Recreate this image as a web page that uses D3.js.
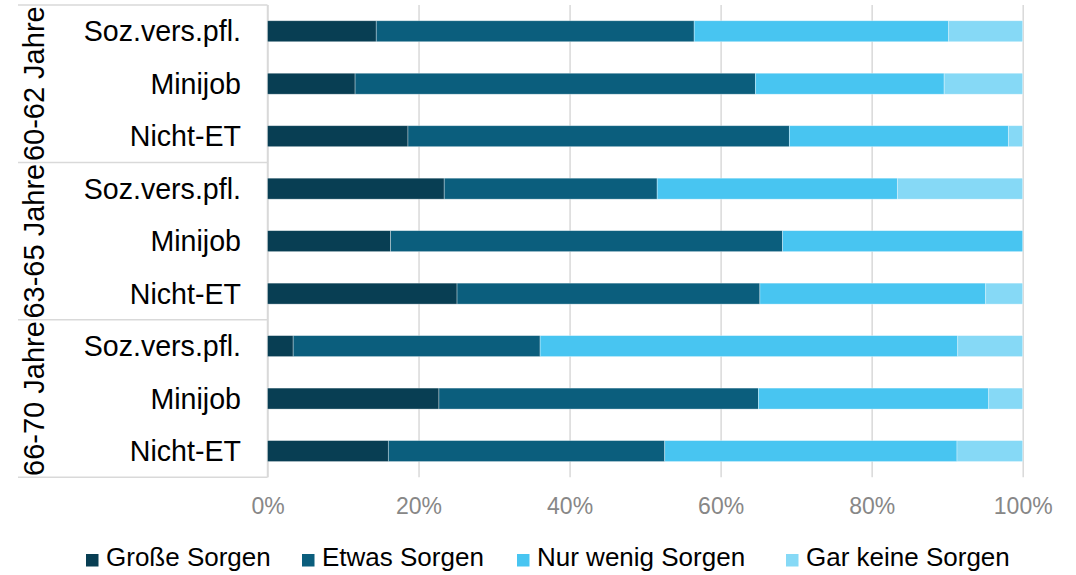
<!DOCTYPE html>
<html>
<head>
<meta charset="utf-8">
<script src="https://cdn.jsdelivr.net/npm/d3@7"></script>
<style>
  html, body { margin: 0; padding: 0; background: #fff; }
  svg { display: block; font-family: "Liberation Sans", Arial, sans-serif; }
</style>
</head>
<body>
<svg id="chart" width="1076" height="575"></svg>
<script>
// Age groups and employment categories (rows, top to bottom)
const groups = ["60-62 Jahre", "63-65 Jahre", "66-70 Jahre"];
const categories = ["Soz.vers.pfl.", "Minijob", "Nicht-ET"];

// Answer categories
const seriesNames = ["Große Sorgen", "Etwas Sorgen", "Nur wenig Sorgen", "Gar keine Sorgen"];

// Shares in percent, one value per row (group x category)
const grosseSorgen   = [14.4, 11.6, 18.6, 23.4, 16.3, 25.1,  3.4, 22.7, 16.0];
const etwasSorgen    = [42.1, 53.0, 50.5, 28.2, 51.9, 40.1, 32.7, 42.3, 36.6];
const nurWenigSorgen = [33.7, 25.0, 29.0, 31.8, 31.8, 29.9, 55.3, 30.5, 38.7];
const garKeineSorgen = [ 9.8, 10.4,  1.9, 16.6,  0.0,  4.9,  8.6,  4.5,  8.7];

// Axis ticks
const tickValues = [0, 20, 40, 60, 80, 100];
const tickLabels = ["0%", "20%", "40%", "60%", "80%", "100%"];

const colors = ["#083e53", "#0b5e7d", "#48c5f1", "#86d9f6"];

// Build rows for stacking
const seriesValues = [grosseSorgen, etwasSorgen, nurWenigSorgen, garKeineSorgen];
const rows = [];
groups.forEach((g, gi) => {
  categories.forEach((c, ci) => {
    const i = gi * categories.length + ci;
    const row = { id: i, group: g, category: c };
    seriesNames.forEach((s, si) => { row[s] = seriesValues[si][i]; });
    rows.push(row);
  });
});

const svg = d3.select("#chart");
const plotTop = 5, plotBottom = 477.3, plotLeft = 267.5, plotRight = 1022.7;

const x = d3.scaleLinear().domain([0, 100]).range([plotLeft, plotRight]);
const y = d3.scaleBand()
  .domain(rows.map(d => d.id))
  .range([plotTop, plotBottom])
  .paddingInner(0.6)
  .paddingOuter(0.3);

// Vertical gridlines
const grid = svg.append("g")
  .attr("transform", `translate(0,${plotBottom})`)
  .call(d3.axisBottom(x).tickValues(tickValues).tickSize(-(plotBottom - plotTop)).tickFormat(""));
grid.select(".domain").remove();
grid.selectAll(".tick line").attr("stroke", "#d9d9d9").attr("stroke-width", 1.5);

// Category axis line and group separators
const groupStep = (plotBottom - plotTop) / groups.length;
svg.append("line")
  .attr("x1", plotLeft).attr("x2", plotLeft)
  .attr("y1", plotTop).attr("y2", plotBottom)
  .attr("stroke", "#d9d9d9").attr("stroke-width", 1.5);
d3.range(groups.length + 1).forEach(k => {
  svg.append("line")
    .attr("x1", 18).attr("x2", plotLeft)
    .attr("y1", plotTop + k * groupStep).attr("y2", plotTop + k * groupStep)
    .attr("stroke", "#d9d9d9").attr("stroke-width", 1.5);
});

// Stacked bars
const stacked = d3.stack().keys(seriesNames)(rows);
svg.append("g").selectAll("g")
  .data(stacked)
  .join("g")
  .attr("fill", (d, i) => colors[i])
  .selectAll("rect")
  .data(d => d)
  .join("rect")
  .attr("x", d => x(d[0]))
  .attr("y", d => y(d.data.id))
  .attr("width", d => Math.max(0, x(d[1]) - x(d[0])))
  .attr("height", y.bandwidth())
  .attr("stroke", "#ffffff")
  .attr("stroke-opacity", 0.45)
  .attr("stroke-width", 0.75);

// Category labels
svg.append("g").selectAll("text")
  .data(rows)
  .join("text")
  .attr("x", 241)
  .attr("y", d => y(d.id) + y.bandwidth() / 2 + 10)
  .attr("text-anchor", "end")
  .attr("font-size", "28.6px")
  .attr("fill", "#000")
  .text(d => d.category);

// Group labels (rotated)
svg.append("g").selectAll("text")
  .data(groups)
  .join("text")
  .attr("transform", (d, i) => `translate(44,${plotTop + (i + 0.5) * groupStep}) rotate(-90)`)
  .attr("text-anchor", "middle")
  .attr("font-size", "29px")
  .attr("fill", "#000")
  .text(d => d);

// X tick labels
const xAxis = svg.append("g")
  .call(d3.axisBottom(x).tickValues(tickValues).tickSize(0)
    .tickFormat((d, i) => tickLabels[i]));
xAxis.select(".domain").remove();
xAxis.selectAll("text")
  .attr("y", 514).attr("dy", null)
  .attr("font-size", "23px")
  .attr("font-family", "\"Liberation Sans\", Arial, sans-serif")
  .attr("fill", "#878787");

// Legend
const legendX = [86, 302, 517, 786];
const legend = svg.append("g").selectAll("g")
  .data(seriesNames)
  .join("g")
  .attr("transform", (d, i) => `translate(${legendX[i]},0)`);
legend.append("rect")
  .attr("x", 0).attr("y", 554)
  .attr("width", 12.5).attr("height", 12.5)
  .attr("fill", (d, i) => colors[i]);
legend.append("text")
  .attr("x", 20).attr("y", 566)
  .attr("font-size", "26px")
  .attr("fill", "#000")
  .text(d => d);
</script>
</body>
</html>
